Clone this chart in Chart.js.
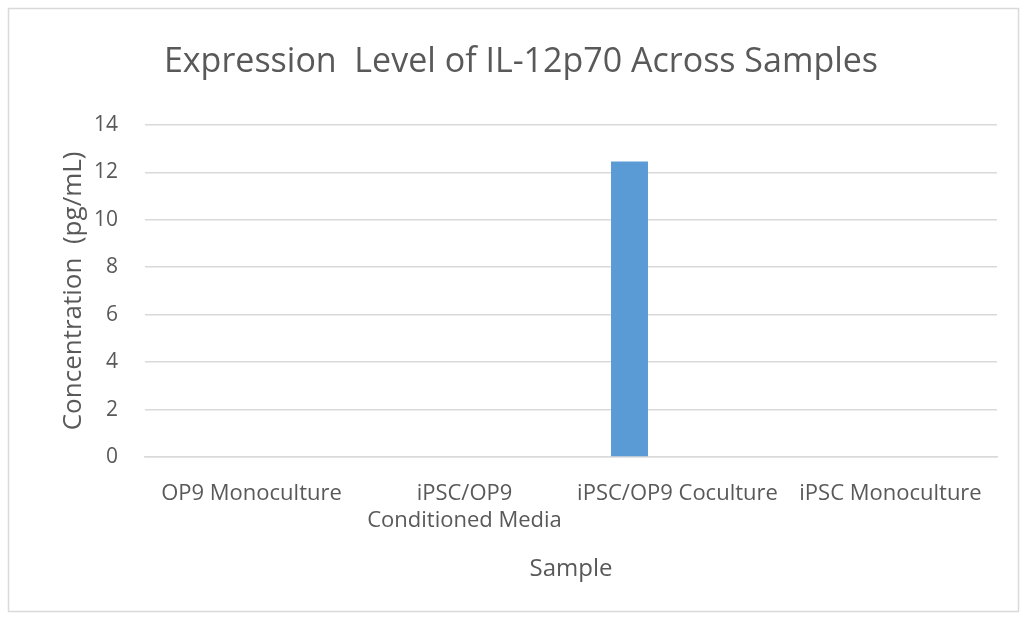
<!DOCTYPE html>
<html>
<head>
<meta charset="utf-8">
<script src="https://cdn.jsdelivr.net/npm/chart.js@4.4.1/dist/chart.umd.min.js"></script>
<style>
  html, body { margin:0; padding:0; background:#fff; }
  #wrap { width:1023px; height:618px; position:relative; }
</style>
</head>
<body>
<div id="wrap"><canvas id="chart" width="1023" height="618"></canvas></div>
<script>
// ================= DATA =================
const samples = ["OP9 Monoculture", ["iPSC/OP9", "Conditioned Media"], "iPSC/OP9 Coculture", "iPSC Monoculture"];
const il12p70 = [0, 0, 12.45, 0];
// empty series from the source sheet (they only take up slots in each group)
const blank2 = [null, null, null, null];
const blank3 = [null, null, null, null];
const yTicks = [0, 2, 4, 6, 8, 10, 12, 14];

const textGray = "#595959";
const gridGray = "#d9d9d9";
const font = "'Open Sans', sans-serif";

// ================= FRAME =================
const frame = {
  id: "frame",
  beforeDraw(chart){
    const ctx = chart.ctx;
    ctx.save();
    ctx.fillStyle = "#fff";
    ctx.fillRect(0, 0, chart.width, chart.height);
    ctx.strokeStyle = gridGray;
    ctx.lineWidth = 1.5;
    ctx.strokeRect(8.5, 8.5, 1010, 603);
    ctx.restore();
  }
};

// ================= CHART =================
new Chart(document.getElementById("chart"), {
  type: "bar",
  data: {
    labels: samples,
    datasets: [
      { label: "IL-12p70", data: il12p70, backgroundColor: "#5b9bd5" },
      { label: "", data: blank2, backgroundColor: "#ed7d31" },
      { label: "", data: blank3, backgroundColor: "#a5a5a5" }
    ]
  },
  options: {
    responsive: false,
    animation: false,
    devicePixelRatio: 1,
    categoryPercentage: 0.676,
    barPercentage: 0.77,
    layout: { padding: { left: 45, right: 26, top: 10, bottom: 0 } },
    plugins: {
      legend: { display: false },
      tooltip: { enabled: false },
      title: {
        display: true,
        text: "Expression  Level of IL-12p70 Across Samples",
        color: textGray,
        font: { family: font, size: 34, weight: "normal" },
        padding: { top: 32, bottom: 42 }
      }
    },
    scales: {
      x: {
        afterFit(axis){ axis.height = 161; },
        grid: { display: false },
        border: { color: gridGray, width: 1.5 },
        ticks: {
          color: textGray,
          font: { family: font, size: 22 },
          maxRotation: 0,
          autoSkip: false,
          padding: 16
        },
        title: {
          display: true,
          text: "Sample",
          color: textGray,
          font: { family: font, size: 24 },
          padding: { top: 0, bottom: 34 }
        }
      },
      y: {
        min: 0,
        max: 14,
        afterFit(axis){ axis.width = 100; },
        afterBuildTicks(axis){ axis.ticks = yTicks.map(v => ({ value: v })); },
        grid: { color: gridGray, lineWidth: 1.5, drawTicks: false },
        border: { display: false },
        ticks: {
          color: textGray,
          font: { family: font, size: 21 },
          padding: 27
        },
        title: {
          display: true,
          text: "Concentration  (pg/mL)",
          color: textGray,
          font: { family: font, size: 26 },
          padding: { top: 13, bottom: 0 }
        }
      }
    }
  },
  plugins: [frame]
});
</script>
</body>
</html>
